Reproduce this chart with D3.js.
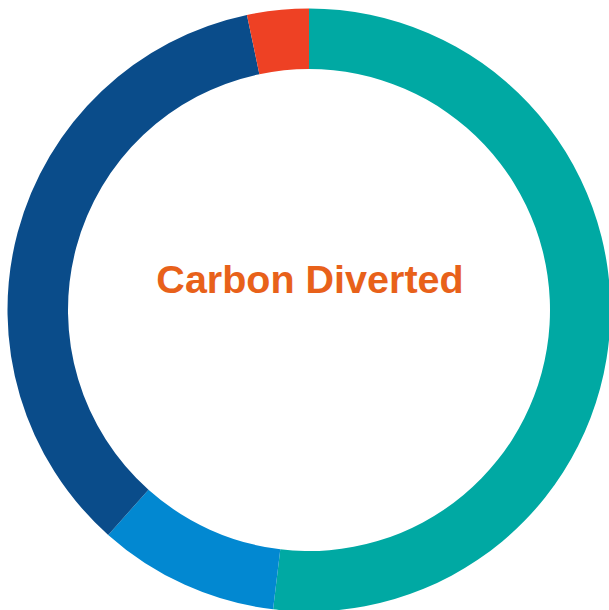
<!DOCTYPE html>
<html lang="en">
<head>
<meta charset="utf-8">
<title>Carbon Diverted</title>
<script src="https://cdn.jsdelivr.net/npm/d3@7"></script>
<style>
  body { margin: 0; background: #fff; }
  svg { display: block; }
</style>
</head>
<body>
<svg width="609" height="610"></svg>
<script>
// segment values (percent), clockwise from 12 o'clock
var categories = ['A', 'B', 'C', 'D'];
var values = [51.9, 9.7, 35.1, 3.3];
var colors = ['#00a9a3', '#0288d1', '#0a4c8a', '#ee4124'];
var title = 'Carbon Diverted';

var svg = d3.select('svg');
var cx = 309, cy = 310;

var pie = d3.pie().sort(null).value(function(d) { return d; });
var arc = d3.arc().innerRadius(241).outerRadius(301.5);

var g = svg.append('g').attr('transform', 'translate(' + cx + ',' + cy + ')');

g.selectAll('path')
  .data(pie(values))
  .enter()
  .append('path')
  .attr('d', arc)
  .attr('fill', function(d, i) { return colors[i]; });

g.append('text')
  .attr('x', 1)
  .attr('y', -17)
  .attr('text-anchor', 'middle')
  .attr('font-family', 'Liberation Sans, Arial, sans-serif')
  .attr('font-weight', 'bold')
  .attr('font-size', 39.5)
  .attr('fill', '#e8611a')
  .text(title);
</script>
</body>
</html>
